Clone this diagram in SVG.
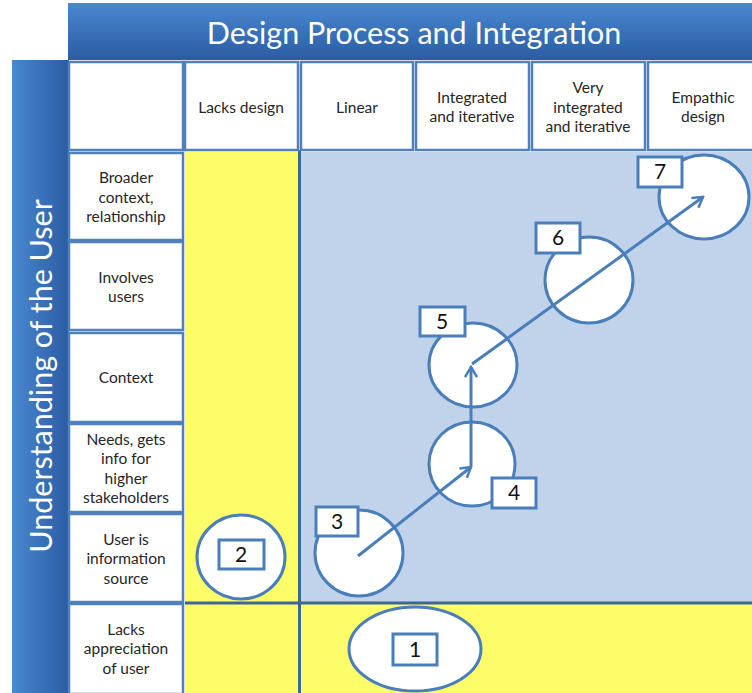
<svg xmlns="http://www.w3.org/2000/svg" width="752" height="693" viewBox="0 0 752 693">
<style>
.cell{fill:#ffffff;stroke:#4f81bd;stroke-width:2.5}
.lbl{font-family:Lato,"Open Sans","Liberation Sans",sans-serif;font-size:15.5px;fill:#262626;text-anchor:middle}
.num{font-family:Lato,"Open Sans","Liberation Sans",sans-serif;font-size:21px;fill:#111;text-anchor:middle}
.stage{fill:#ffffff;stroke:#4a7ebb;stroke-width:3}
.box{fill:#ffffff;stroke:#4a7ebb;stroke-width:3}
.arrow{fill:none;stroke:#4a7ebb;stroke-width:3;marker-end:url(#head)}
.title{font-family:Lato,"Open Sans","Liberation Sans",sans-serif;font-size:30.5px;fill:#ffffff;text-anchor:middle}
</style>
<defs>
<linearGradient id="gTop" x1="0" y1="0" x2="0" y2="1">
<stop offset="0" stop-color="#4a88d0"/>
<stop offset="1" stop-color="#2a5ca3"/>
</linearGradient>
<linearGradient id="gLeft" x1="0" y1="0" x2="1" y2="0">
<stop offset="0" stop-color="#4a88d0"/>
<stop offset="1" stop-color="#2a5ca3"/>
</linearGradient>
<marker id="head" viewBox="0 0 14 14" refX="12" refY="7" markerWidth="14" markerHeight="14" markerUnits="userSpaceOnUse" orient="auto">
<path d="M2,1 L12,7 L2,13" fill="none" stroke="#4a7ebb" stroke-width="2.5"/>
</marker>
</defs>
<rect width="752" height="693" fill="#ffffff"/>
<g id="header-bar">
<rect x="68" y="3" width="684" height="57" fill="url(#gTop)"/>
<text class="title" x="414" y="44">Design Process and Integration</text>
</g>
<g id="side-bar">
<rect x="12" y="60" width="57" height="633" fill="url(#gLeft)"/>
<text class="title" transform="translate(52,376) rotate(-90)">Understanding of the User</text>
</g>
<g id="regions">
<rect x="185" y="152" width="114" height="541" fill="#fdfd6a"/>
<rect x="300" y="152" width="452" height="451" fill="#c0d3ea"/>
<rect x="300" y="604" width="452" height="89" fill="#fdfd6a"/>
<line x1="299.5" y1="150" x2="299.5" y2="693" stroke="#3d6799" stroke-width="3"/>
<line x1="185" y1="603" x2="752" y2="603" stroke="#3d6799" stroke-width="3"/>
</g>
<g id="col-headers">
<rect class="cell" x="69" y="62" width="114" height="88"/>
<g id="h-lacks"><rect class="cell" x="185" y="62" width="113" height="88"/><text class="lbl" x="241" y="113">Lacks design</text></g>
<g id="h-linear"><rect class="cell" x="301" y="62" width="112" height="88"/><text class="lbl" x="357" y="113">Linear</text></g>
<g id="h-integrated"><rect class="cell" x="416" y="62" width="113" height="88"/><text class="lbl" x="472" y="103">Integrated</text><text class="lbl" x="472" y="122">and iterative</text></g>
<g id="h-very"><rect class="cell" x="532" y="62" width="113" height="88"/><text class="lbl" x="588" y="93">Very</text><text class="lbl" x="588" y="113">integrated</text><text class="lbl" x="588" y="132">and iterative</text></g>
<g id="h-empathic"><rect class="cell" x="648" y="62" width="110" height="88"/><text class="lbl" x="703" y="103">Empathic</text><text class="lbl" x="703" y="122">design</text></g>
</g>
<g id="row-headers">
<g id="r-broader"><rect class="cell" x="69" y="153" width="114" height="87"/><text class="lbl" x="126" y="183">Broader</text><text class="lbl" x="126" y="203">context,</text><text class="lbl" x="126" y="222">relationship</text></g>
<g id="r-involves"><rect class="cell" x="69" y="242" width="114" height="88"/><text class="lbl" x="126" y="283">Involves</text><text class="lbl" x="126" y="302">users</text></g>
<g id="r-context"><rect class="cell" x="69" y="333" width="114" height="89"/><text class="lbl" x="126" y="383">Context</text></g>
<g id="r-needs"><rect class="cell" x="69" y="424" width="114" height="88"/><text class="lbl" x="126" y="445">Needs, gets</text><text class="lbl" x="126" y="464">info for</text><text class="lbl" x="126" y="484">higher</text><text class="lbl" x="126" y="503">stakeholders</text></g>
<g id="r-source"><rect class="cell" x="69" y="514" width="114" height="88"/><text class="lbl" x="126" y="545">User is</text><text class="lbl" x="126" y="564">information</text><text class="lbl" x="126" y="584">source</text></g>
<g id="r-lacks"><rect class="cell" x="69" y="604" width="114" height="90"/><text class="lbl" x="126" y="635">Lacks</text><text class="lbl" x="126" y="654">appreciation</text><text class="lbl" x="126" y="674">of user</text></g>
</g>
<g id="stage1"><ellipse class="stage" cx="415" cy="649" rx="66" ry="42"/><rect class="box" x="393" y="634" width="44" height="31"/><text class="num" x="415" y="657">1</text></g>
<g id="stage2"><ellipse class="stage" cx="241" cy="557" rx="44" ry="42"/><rect class="box" x="219" y="540" width="45" height="29"/><text class="num" x="241" y="562">2</text></g>
<g id="stage3"><ellipse class="stage" cx="359" cy="553" rx="44" ry="43"/><rect class="box" x="316" y="507" width="42" height="29"/><text class="num" x="337" y="529">3</text></g>
<g id="stage4"><ellipse class="stage" cx="472" cy="464" rx="43" ry="42"/><rect class="box" x="492" y="478" width="44" height="30"/><text class="num" x="514" y="500">4</text></g>
<g id="stage5"><ellipse class="stage" cx="473" cy="365" rx="44" ry="42"/><rect class="box" x="420" y="307" width="45" height="29"/><text class="num" x="442" y="329">5</text></g>
<g id="stage6"><ellipse class="stage" cx="589" cy="280" rx="44" ry="43"/><rect class="box" x="536" y="223" width="44" height="30"/><text class="num" x="558" y="245">6</text></g>
<g id="stage7"><ellipse class="stage" cx="704" cy="197" rx="45" ry="42"/><rect class="box" x="638" y="157" width="44" height="30"/><text class="num" x="660" y="179">7</text></g>
<g id="connectors">
<line class="arrow" x1="358" y1="556" x2="471" y2="467"/>
<line class="arrow" x1="471" y1="466" x2="471" y2="367"/>
<line class="arrow" x1="472" y1="364" x2="703" y2="197"/>
</g>
</svg>
